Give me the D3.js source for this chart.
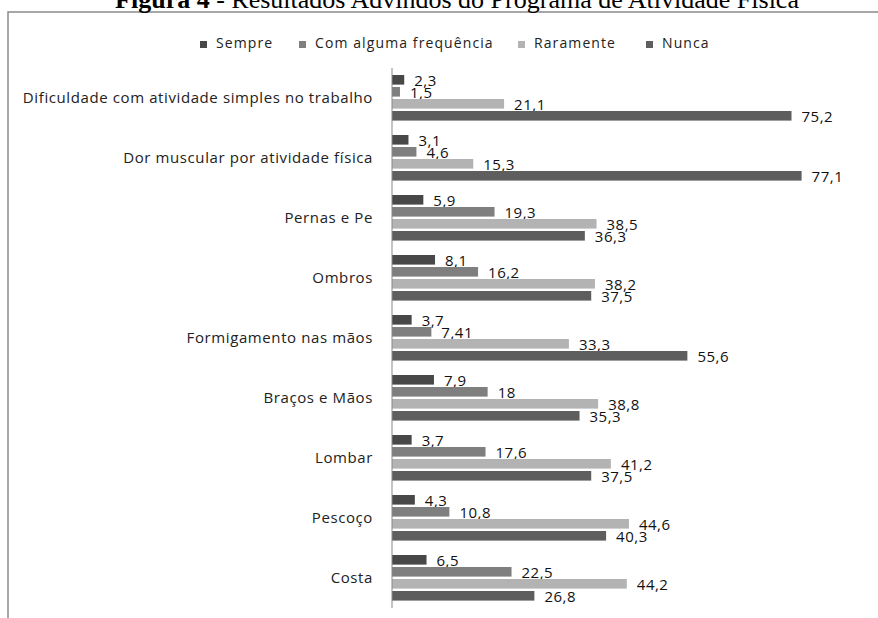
<!DOCTYPE html>
<html>
<head>
<meta charset="utf-8">
<script src="https://cdn.jsdelivr.net/npm/d3@7"></script>
<style>
  body { margin: 0; background: #fff; }
  svg { display: block; }
</style>
</head>
<body>
<div id="chart"></div>
<script>
// data
var categories = [
  "Dificuldade com atividade simples no trabalho",
  "Dor muscular por atividade física",
  "Pernas e Pe",
  "Ombros",
  "Formigamento nas mãos",
  "Braços e Mãos",
  "Lombar",
  "Pescoço",
  "Costa"
];
var seriesNames = ["Sempre", "Com alguma frequência", "Raramente", "Nunca"];
var sempre     = [2.3, 3.1, 5.9, 8.1, 3.7, 7.9, 3.7, 4.3, 6.5];
var comAlguma  = [1.5, 4.6, 19.3, 16.2, 7.41, 18, 17.6, 10.8, 22.5];
var raramente  = [21.1, 15.3, 38.5, 38.2, 33.3, 38.8, 41.2, 44.6, 44.2];
var nunca      = [75.2, 77.1, 36.3, 37.5, 55.6, 35.3, 37.5, 40.3, 26.8];
var seriesValues = [sempre, comAlguma, raramente, nunca];
var colors = ["#484848", "#7f7f7f", "#b3b3b3", "#5e5e5e"];

var svgWidth = 878;
var svgHeight = 618;

var svg = d3.select("#chart")
  .append("svg")
  .attr("width", svgWidth)
  .attr("height", svgHeight);

// frame (top and left edges visible)
svg.append("path")
  .attr("d", "M8,618 L8,12 L878,12")
  .attr("fill", "none")
  .attr("stroke", "#8a8a8a")
  .attr("stroke-width", 1.5);

// title, mostly cut at the top
var title = svg.append("text")
  .attr("x", 457)
  .attr("y", 8)
  .attr("text-anchor", "middle")
  .attr("font-family", "'Liberation Serif', 'Times New Roman', serif")
  .attr("font-size", 26)
  .attr("fill", "#000");
title.append("tspan").attr("font-weight", "bold").text("Figura 4");
title.append("tspan").text(" - Resultados Advindos do Programa de Atividade Física");

var font = "'Open Sans', 'Noto Sans', sans-serif";

// legend
var legendX = [200, 299, 518, 646];
var legend = svg.append("g");
seriesNames.forEach(function(name, i) {
  legend.append("rect")
    .attr("x", legendX[i])
    .attr("y", 41)
    .attr("width", 7)
    .attr("height", 7)
    .attr("fill", colors[i]);
  legend.append("text")
    .attr("x", legendX[i] + 16)
    .attr("y", 47.5)
    .attr("font-family", font)
    .attr("font-size", 14)
    .attr("letter-spacing", 1.1)
    .attr("fill", "#222")
    .text(name);
});

// scales
var x = d3.scaleLinear().domain([0, 80]).range([392, 817]);
var y = d3.scaleBand().domain(categories).range([68, 608]).padding(0);
var ySub = d3.scaleBand().domain(seriesNames).range([7, 52.6]).paddingInner(0.2).paddingOuter(0);

var chartGroup = svg.append("g");

var groups = chartGroup.selectAll("g.cat")
  .data(categories)
  .enter()
  .append("g")
  .attr("class", "cat")
  .attr("transform", d => `translate(0,${y(d)})`);

groups.each(function(cat, ci) {
  var g = d3.select(this);
  seriesNames.forEach(function(s, si) {
    var v = seriesValues[si][ci];
    g.append("rect")
      .attr("x", x(0))
      .attr("y", ySub(s))
      .attr("width", x(v) - x(0))
      .attr("height", ySub.bandwidth())
      .attr("fill", colors[si]);
    g.append("text")
      .attr("x", x(v) + 10)
      .attr("y", ySub(s) + ySub.bandwidth() + 1.5)
      .attr("font-family", font)
      .attr("font-size", 15)
      .attr("letter-spacing", 0.5)
      .attr("fill", "#111")
      .text(String(v).replace(".", ","));
  });
});

// category labels
chartGroup.selectAll("text.catlabel")
  .data(categories)
  .enter()
  .append("text")
  .attr("class", "catlabel")
  .attr("x", 373)
  .attr("y", d => y(d) + y.bandwidth() / 2 + 5)
  .attr("text-anchor", "end")
  .attr("font-family", font)
  .attr("font-size", 15)
  .attr("letter-spacing", 0.6)
  .attr("fill", "#222")
  .text(d => d);

// vertical axis line
chartGroup.append("line")
  .attr("x1", x(0))
  .attr("x2", x(0))
  .attr("y1", 68)
  .attr("y2", 608)
  .attr("stroke", "#888")
  .attr("stroke-width", 1);
</script>
</body>
</html>
